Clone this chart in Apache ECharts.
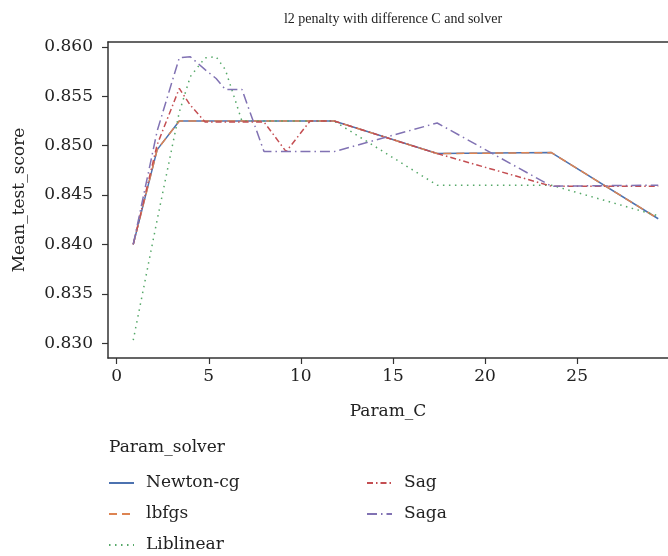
<!DOCTYPE html>
<html>
<head>
<meta charset="utf-8">
<script src="https://cdn.jsdelivr.net/npm/echarts@6/dist/echarts.min.js"></script>
<style>
  html, body { margin: 0; padding: 0; background: #fff; }
  #chart { width: 668px; height: 556px; }
</style>
</head>
<body>
<div id="chart"></div>
<script>
// Param_C values (x) and mean test score per solver
var paramC = [0.9, 2.2, 3.4, 4.0, 4.8, 5.4, 5.9, 6.8, 8.0, 9.2, 10.5, 11.8, 17.4, 23.6, 29.4];
var newtonCg  = [0.8400, 0.8496, 0.8525, 0.8525, 0.8525, 0.8525, 0.8525, 0.8525, 0.8525, 0.8525, 0.8525, 0.8525, 0.8492, 0.8493, 0.8426];
var lbfgs     = [0.8400, 0.8496, 0.8525, 0.8525, 0.8525, 0.8525, 0.8525, 0.8525, 0.8525, 0.8525, 0.8525, 0.8525, 0.8492, 0.8493, 0.8426];
var liblinear = [0.8303, 0.8425, 0.8534, 0.8570, 0.8589, 0.8590, 0.8577, 0.8525, 0.8525, 0.8525, 0.8525, 0.8525, 0.8460, 0.8460, 0.8429];
var sag       = [0.8400, 0.8501, 0.8558, 0.8541, 0.8524, 0.8524, 0.8524, 0.8524, 0.8524, 0.8494, 0.8525, 0.8525, 0.8492, 0.8459, 0.8459];
var saga      = [0.8400, 0.8515, 0.8589, 0.8590, 0.8577, 0.8568, 0.8557, 0.8557, 0.8494, 0.8494, 0.8494, 0.8494, 0.8523, 0.8459, 0.8460];

var xTicks = [0, 5, 10, 15, 20, 25];
var yTicks = [0.830, 0.835, 0.840, 0.845, 0.850, 0.855, 0.860];

var FONT = 'DejaVu Serif';
var INK = '#222';
var AXIS = '#333';

function pairs(ys) {
    return paramC.map(function (c, i) { return [c, ys[i]]; });
}

function line(name, ys, color, dash) {
    return {
        name: name,
        type: 'line',
        data: pairs(ys),
        symbol: 'none',
        color: color,
        lineStyle: { color: color, width: 1.5, type: dash },
        emphasis: { disabled: true }
    };
}

function legendBox(names, left) {
    return {
        data: names,
        orient: 'vertical', left: left, top: 473, padding: 0,
        itemWidth: 25, itemHeight: 14, itemGap: 11,
        itemStyle: { opacity: 0 },
        textStyle: { fontFamily: FONT, fontSize: 17, color: INK, lineHeight: 20, padding: [0, 0, 0, 7] }
    };
}

var option = {
    animation: false,
    title: [
        {
            text: 'l2 penalty with difference C and solver',
            left: 388, top: 7, textAlign: 'center',
            textStyle: { fontFamily: 'Liberation Serif', fontSize: 14, fontWeight: 'normal', color: INK }
        },
        {
            text: 'Param_solver',
            left: 109, top: 439, padding: 0,
            textStyle: { fontFamily: FONT, fontSize: 17, fontWeight: 'normal', color: INK }
        }
    ],
    legend: [
        legendBox(['Newton-cg', 'lbfgs', 'Liblinear'], 108),
        legendBox(['Sag', 'Saga'], 366)
    ],
    grid: { left: 108, top: 42, right: 0, bottom: 198 },
    xAxis: [
        {
            type: 'value',
            min: -0.47, max: 29.93,
            name: 'Param_C', nameLocation: 'middle', nameGap: 45,
            nameTextStyle: { fontFamily: FONT, fontSize: 17, color: INK },
            axisLine: { show: true, onZero: false, lineStyle: { color: AXIS, width: 1.5 } },
            axisTick: { show: true, length: 6, customValues: xTicks, lineStyle: { color: AXIS, width: 1.2 } },
            axisLabel: { customValues: xTicks, fontFamily: FONT, fontSize: 17, color: INK, margin: 10 },
            splitLine: { show: false }
        },
        {
            // top frame line only
            type: 'value', position: 'top',
            min: -0.47, max: 29.93,
            axisLine: { show: true, onZero: false, lineStyle: { color: AXIS, width: 1.5 } },
            axisTick: { show: false },
            axisLabel: { show: false },
            splitLine: { show: false }
        }
    ],
    yAxis: {
        type: 'value',
        min: 0.8285, max: 0.8605,
        name: 'Mean_test_score', nameLocation: 'middle', nameGap: 80, nameRotate: 90,
        nameTextStyle: { fontFamily: FONT, fontSize: 17, color: INK },
        axisLine: { show: true, onZero: false, lineStyle: { color: AXIS, width: 1.5 } },
        axisTick: { show: true, length: 6, customValues: yTicks, lineStyle: { color: AXIS, width: 1.2 } },
        axisLabel: {
            customValues: yTicks, fontFamily: FONT, fontSize: 17, color: INK, margin: 15,
            formatter: function (v) { return v.toFixed(3); }
        },
        splitLine: { show: false }
    },
    series: [
        line('Newton-cg', newtonCg, '#4c72b0', 'solid'),
        line('lbfgs', lbfgs, '#dd8452', [8, 5]),
        line('Liblinear', liblinear, '#55a868', [1.5, 4.5]),
        line('Sag', sag, '#c44e52', [6, 3, 1.5, 3]),
        line('Saga', saga, '#8172b3', [10, 4, 1.5, 4])
    ]
};

var chart = echarts.init(document.getElementById('chart'));
chart.setOption(option);
window.onresize = chart.resize;
</script>
</body>
</html>
